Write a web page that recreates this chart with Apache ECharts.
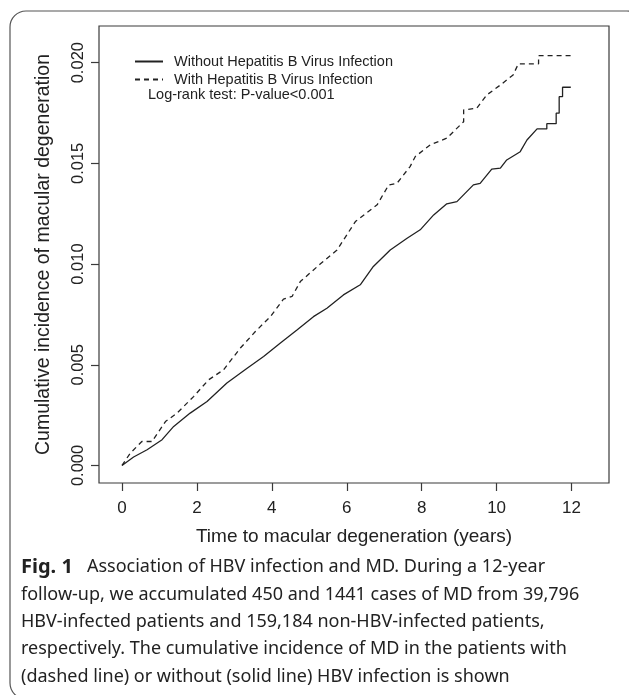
<!DOCTYPE html>
<html><head><meta charset="utf-8">
<script src="https://cdn.jsdelivr.net/npm/echarts@6/dist/echarts.min.js"></script>
<style>html,body{margin:0;padding:0;background:#fff;}#c{width:629px;height:695px;}</style>
</head><body><div id="c"></div>
<script>
const xTicks = [0, 2, 4, 6, 8, 10, 12];
const yTicks = [0.000, 0.005, 0.010, 0.015, 0.020];
const seriesNames = ['Without Hepatitis B Virus Infection', 'With Hepatitis B Virus Infection'];
const testText = 'Log-rank test: P-value<0.001';
const xTitle = 'Time to macular degeneration (years)';
const yTitle = 'Cumulative incidence of macular degeneration';
const captionLabel = 'Fig. 1';
const captionLines = [
  'Association of HBV infection and MD. During a 12-year',
  'follow-up, we accumulated 450 and 1441 cases of MD from 39,796',
  'HBV-infected patients and 159,184 non-HBV-infected patients,',
  'respectively. The cumulative incidence of MD in the patients with',
  '(dashed line) or without (solid line) HBV infection is shown'
];
// Without HBV (solid)
const withoutHBV = [
  [0, 0], [0.31, 0.00042], [0.67, 0.00078], [1.07, 0.00128], [1.38, 0.00194],
  [1.82, 0.0026], [2.27, 0.00318], [2.80, 0.00409], [3.34, 0.00483], [3.78, 0.00541],
  [4.22, 0.00607], [4.67, 0.00673], [5.11, 0.00739], [5.47, 0.00781], [5.91, 0.00847],
  [6.36, 0.00897], [6.71, 0.00988], [7.16, 0.0107], [7.61, 0.01128], [7.96, 0.0117],
  [8.32, 0.01244], [8.67, 0.01299], [8.94, 0.0131], [9.38, 0.01393], [9.56, 0.01401],
  [9.87, 0.01471], [10.10, 0.01476], [10.27, 0.01517], [10.63, 0.01558], [10.81, 0.01616],
  [11.08, 0.01671], [11.34, 0.01671], [11.34, 0.01697], [11.59, 0.01697], [11.59, 0.01749],
  [11.67, 0.01749], [11.67, 0.01831], [11.76, 0.01831], [11.76, 0.01878], [11.98, 0.01878]
];
// With HBV (dashed)
const withHBV = [
  [0, 0], [0.22, 0.00061], [0.53, 0.00119], [0.80, 0.00119], [1.16, 0.00218],
  [1.47, 0.0026], [1.91, 0.00342], [2.31, 0.00425], [2.71, 0.00475], [3.16, 0.00583],
  [3.56, 0.00665], [3.96, 0.00739], [4.31, 0.00826], [4.54, 0.00839], [4.76, 0.00913],
  [5.29, 0.0100], [5.74, 0.0107], [6.23, 0.01211], [6.81, 0.01294], [7.12, 0.01393],
  [7.34, 0.01401], [7.69, 0.01484], [7.83, 0.01534], [8.23, 0.01592], [8.67, 0.01625],
  [9.12, 0.01707], [9.12, 0.01765], [9.47, 0.01774], [9.74, 0.0184], [10.10, 0.01889],
  [10.44, 0.01939], [10.58, 0.01994], [11.12, 0.01994], [11.12, 0.02035], [12.01, 0.02035]
];

const AX = '#3a3a3a';
const FONT = '"Liberation Sans", Arial, sans-serif';
const CAPFONT = '"Noto Sans", sans-serif';
const chart = echarts.init(document.getElementById('c'), null, {renderer: 'canvas'});

chart.setOption({
  animation: false,
  backgroundColor: '#fff',
  grid: {left: 99, top: 26, right: 20, bottom: 212, show: true, borderColor: AX, borderWidth: 1.2, backgroundColor: 'transparent'},
  legend: {
    orient: 'vertical', left: 129, top: 49, itemWidth: 28, itemHeight: 14, itemGap: 3,
    data: seriesNames,
    itemStyle: {opacity: 0},
    textStyle: {fontFamily: FONT, fontSize: 14.5, color: '#222', padding: [0, 0, 0, 6]},
    selectedMode: false
  },
  xAxis: {
    type: 'value', min: -0.614, max: 13.0,
    splitLine: {show: false},
    axisLine: {show: false, onZero: false},
    axisTick: {show: true, length: 8, inside: false, lineStyle: {color: AX, width: 1.2}, customValues: xTicks},
    axisLabel: {customValues: xTicks, fontFamily: FONT, fontSize: 17, color: '#222', margin: 17},
    name: xTitle, nameLocation: 'middle', nameGap: 44,
    nameTextStyle: {fontFamily: FONT, fontSize: 19, color: '#222'}
  },
  yAxis: {
    type: 'value', min: -0.00087, max: 0.02182,
    splitLine: {show: false},
    axisLine: {show: false, onZero: false},
    axisTick: {show: true, length: 8, inside: false, lineStyle: {color: AX, width: 1.2}, customValues: yTicks},
    axisLabel: {customValues: yTicks, rotate: 90, fontFamily: FONT, fontSize: 16.5, color: '#222', margin: 12,
      formatter: v => v.toFixed(3)},
    name: yTitle, nameLocation: 'middle', nameGap: 45, nameRotate: 90,
    nameTextStyle: {fontFamily: FONT, fontSize: 19.5, color: '#222'}
  },
  series: [
    {name: seriesNames[0], type: 'line', data: withoutHBV, symbol: 'none', showSymbol: false,
     lineStyle: {color: '#222', width: 1.3, type: 'solid'}, itemStyle: {color: '#222'}},
    {name: seriesNames[1], type: 'line', data: withHBV, symbol: 'none', showSymbol: false,
     lineStyle: {color: '#222', width: 1.3, type: [5, 4]}, itemStyle: {color: '#222'}}
  ],
  graphic: [
    {type: 'rect', silent: true, z: -1,
     shape: {x: 10, y: 11, width: 633, height: 688, r: 16},
     style: {fill: 'none', stroke: '#555', lineWidth: 1.2}},
    {type: 'text', silent: true,
     style: {x: 148, y: 95, text: testText, fontFamily: FONT, fontSize: 14.5, fill: '#222', verticalAlign: 'middle'}}
  ].concat(captionLines.map((t, i) => ({
    type: 'text', silent: true,
    style: {
      x: 21, y: 567 + i * 27.4,
      text: i === 0 ? '{b|' + captionLabel + '}   ' + t : t,
      rich: {b: {fontWeight: 'bold', fontSize: 20, fontFamily: CAPFONT, fill: '#222'}},
      fontSize: 18, fontFamily: CAPFONT, fill: '#222', verticalAlign: 'middle'
    }
  })))
});
</script>
</body></html>
